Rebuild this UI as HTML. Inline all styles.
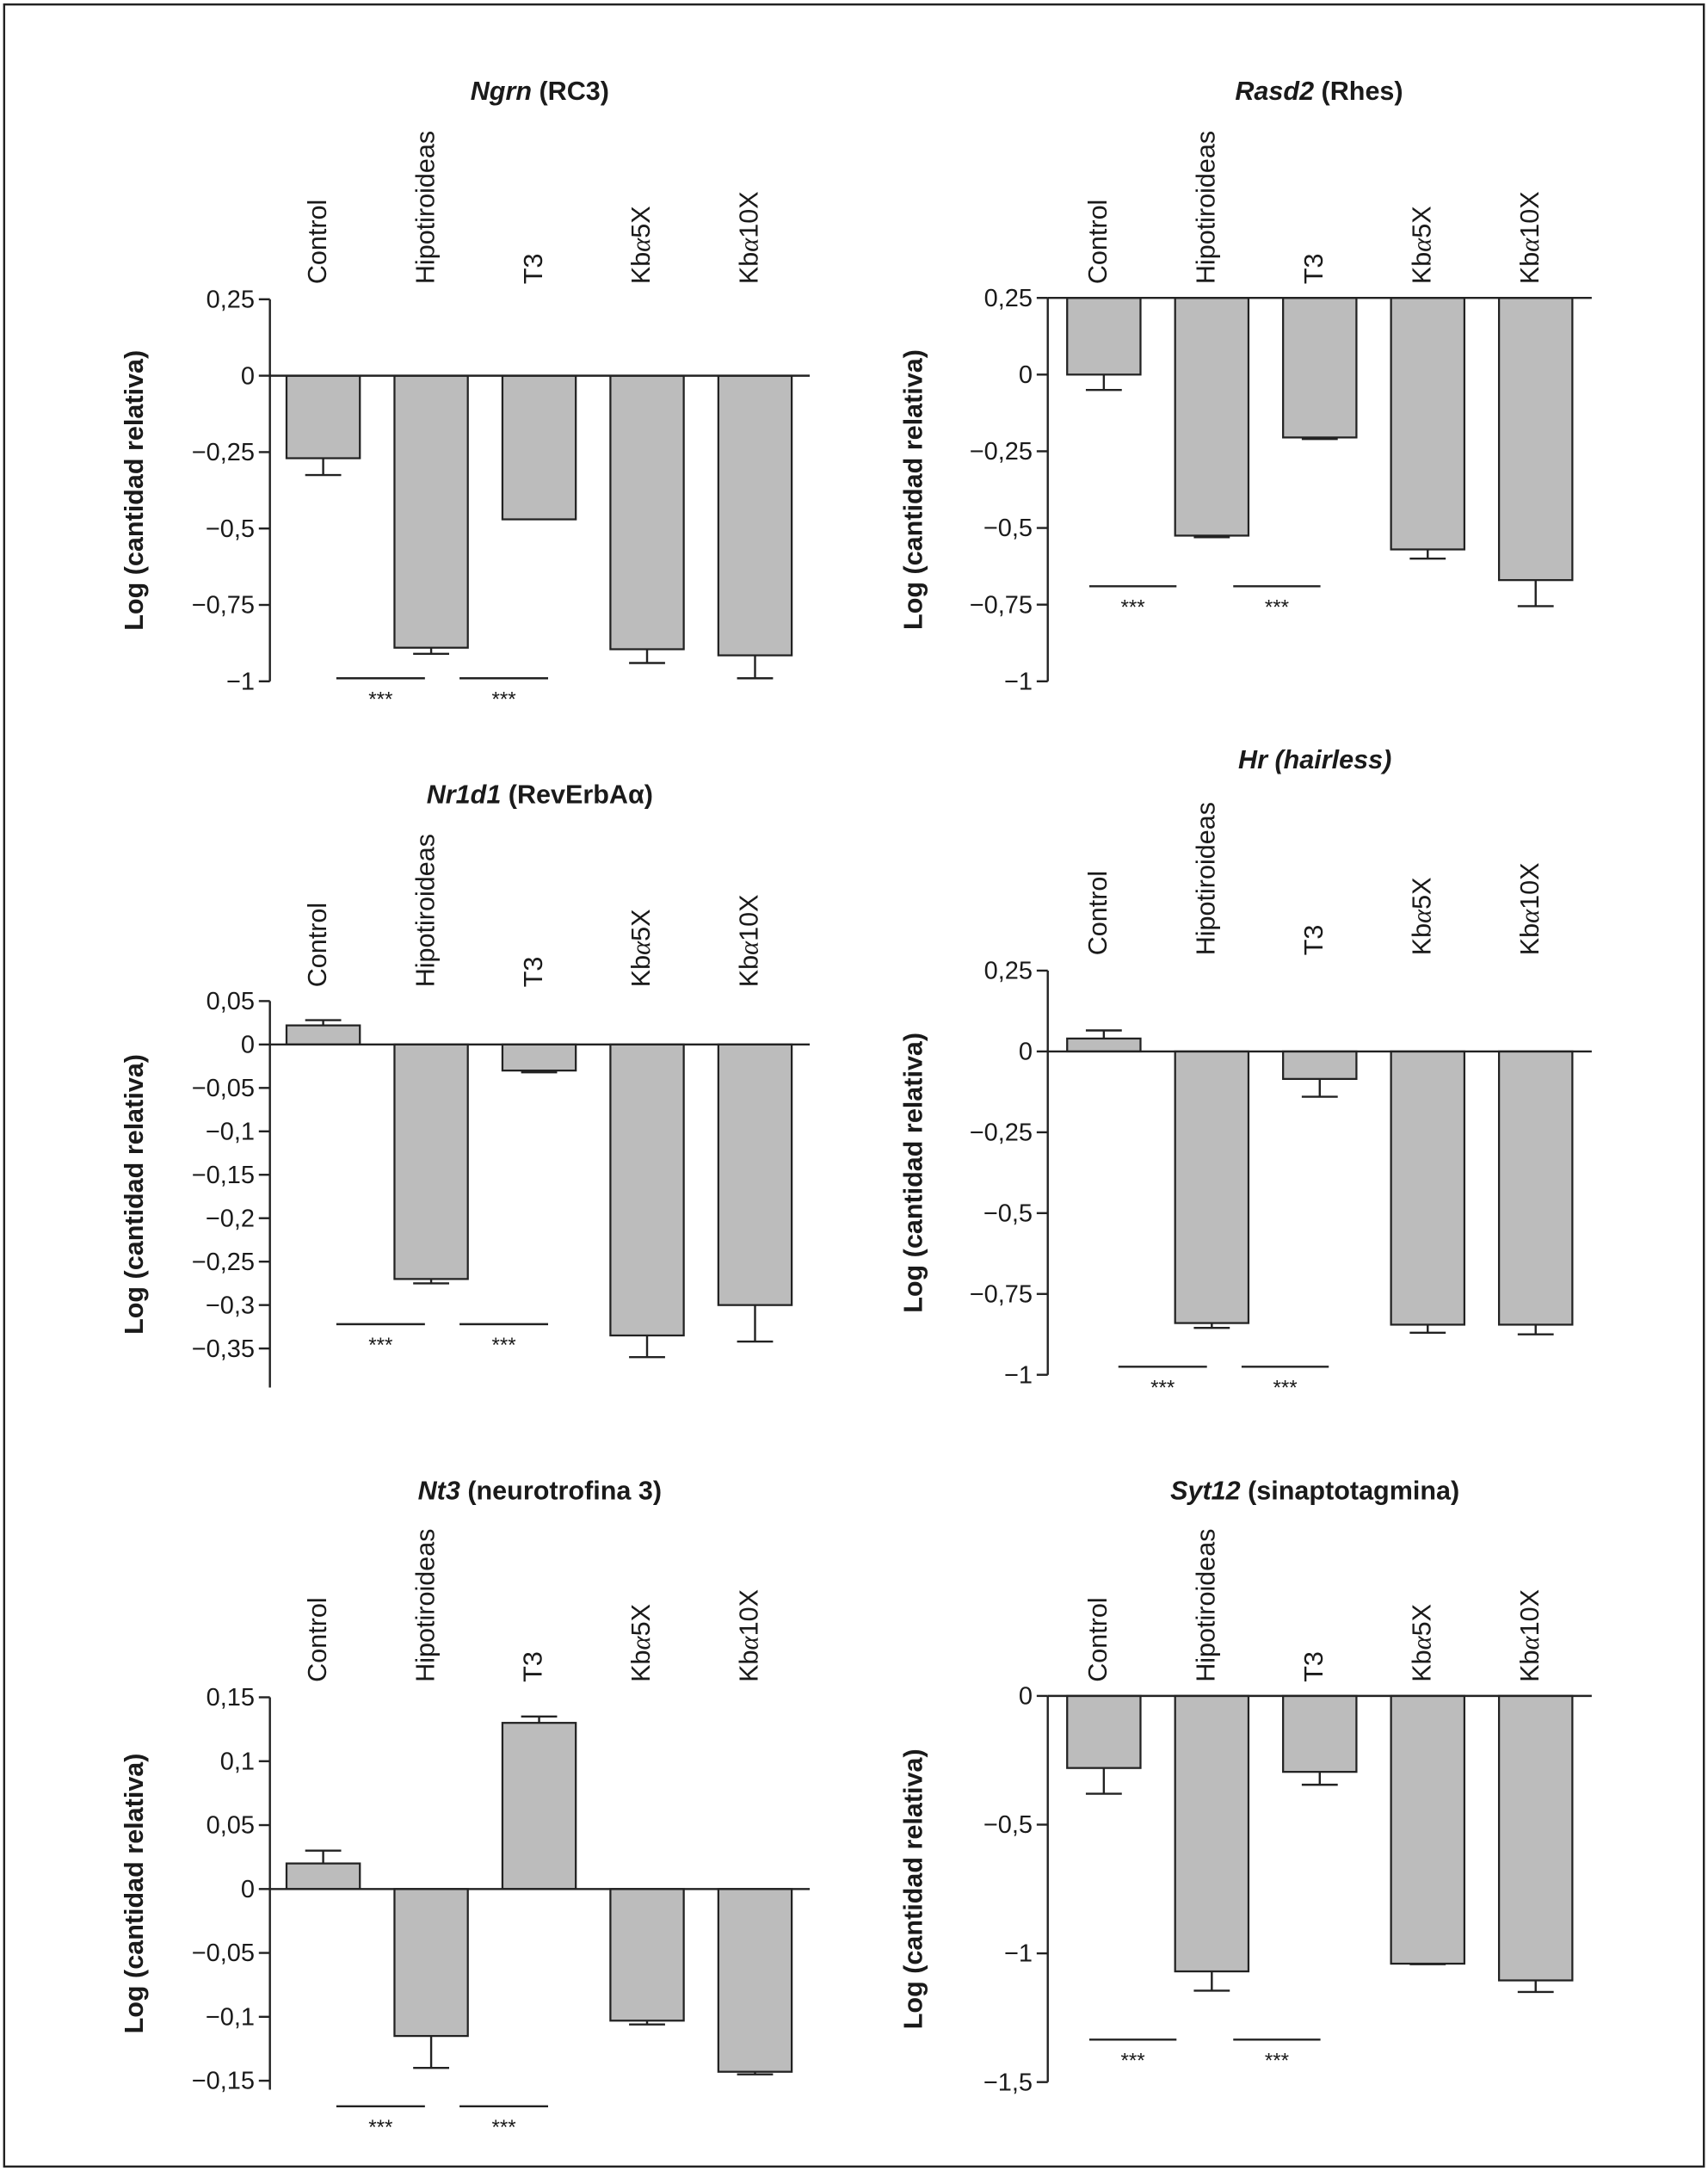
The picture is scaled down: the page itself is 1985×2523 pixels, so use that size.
<!DOCTYPE html>
<html><head><meta charset="utf-8"><style>
html,body{margin:0;padding:0;background:#fff}
svg{display:block}
text{font-family:"Liberation Sans",Arial,sans-serif;fill:#1a1a1a}
</style></head><body>
<svg id="fig" width="1985" height="2523" viewBox="0 0 1234 1568" xmlns="http://www.w3.org/2000/svg">
<rect x="3" y="3" width="1228" height="1562" fill="#fff" stroke="#222" stroke-width="1.5"/>
</svg>
<script>
const categories = ["Control","Hipotiroideas","T3","Kbα5X","Kbα10X"];
const ngrnValues = [-0.27,-0.89,-0.47,-0.895,-0.915];
const ngrnErrors = [-0.325,-0.91,null,-0.94,-0.99];
const ngrnTicks = [0.25,0,-0.25,-0.5,-0.75,-1];
const ngrnTickLabels = ["0,25","0","−0,25","−0,5","−0,75","−1"];
const rasdValues = [0,-0.525,-0.205,-0.57,-0.67];
const rasdErrors = [-0.05,-0.53,-0.21,-0.6,-0.755];
const rasdTicks = [0.25,0,-0.25,-0.5,-0.75,-1];
const rasdTickLabels = ["0,25","0","−0,25","−0,5","−0,75","−1"];
const nr1d1Values = [0.022,-0.27,-0.03,-0.335,-0.3];
const nr1d1Errors = [0.028,-0.275,-0.032,-0.36,-0.342];
const nr1d1Ticks = [0.05,0,-0.05,-0.1,-0.15,-0.2,-0.25,-0.3,-0.35];
const nr1d1TickLabels = ["0,05","0","−0,05","−0,1","−0,15","−0,2","−0,25","−0,3","−0,35"];
const hrValues = [0.04,-0.84,-0.085,-0.845,-0.845];
const hrErrors = [0.065,-0.855,-0.14,-0.87,-0.875];
const hrTicks = [0.25,0,-0.25,-0.5,-0.75,-1];
const hrTickLabels = ["0,25","0","−0,25","−0,5","−0,75","−1"];
const nt3Values = [0.02,-0.115,0.13,-0.103,-0.143];
const nt3Errors = [0.03,-0.14,0.135,-0.106,-0.145];
const nt3Ticks = [0.15,0.1,0.05,0,-0.05,-0.1,-0.15];
const nt3TickLabels = ["0,15","0,1","0,05","0","−0,05","−0,1","−0,15"];
const sytValues = [-0.28,-1.07,-0.295,-1.04,-1.105];
const sytErrors = [-0.38,-1.145,-0.345,-1.042,-1.15];
const sytTicks = [0,-0.5,-1,-1.5];
const sytTickLabels = ["0","−0,5","−1","−1,5"];

const NS="http://www.w3.org/2000/svg";
const svg=document.getElementById('fig');
function mk(tag,attrs,parent){const e=document.createElementNS(NS,tag);for(const k in attrs)e.setAttribute(k,attrs[k]);(parent||svg).appendChild(e);return e;}

const panels=[
 {id:'ngrn',it:'Ngrn',rest:' (RC3)',vals:ngrnValues,errs:ngrnErrors,ticks:ngrnTicks,tl:ngrnTickLabels,
  ax:195,x0:207,xEnd:585,vTop:0.25,yTop:216,vBot:-1,yBot:492,axBottom:-1,base:0,titleX:390,titleY:72,labY:205,ytX:97,
  sig:-0.99,sigX:[[243,307],[332,396]]},
 {id:'rasd2',it:'Rasd2',rest:' (Rhes)',vals:rasdValues,errs:rasdErrors,ticks:rasdTicks,tl:rasdTickLabels,
  ax:757,x0:771,xEnd:1150,vTop:0.25,yTop:215,vBot:-1,yBot:492,axBottom:-1,base:0.25,titleX:953,titleY:72,labY:205,ytX:660,
  sig:-0.69,sigX:[[787,850],[891,954]]},
 {id:'nr1d1',it:'Nr1d1',rest:' (RevErbAα)',vals:nr1d1Values,errs:nr1d1Errors,ticks:nr1d1Ticks,tl:nr1d1TickLabels,
  ax:195,x0:207,xEnd:585,vTop:0.05,yTop:723,vBot:-0.35,yBot:974,axBottom:-0.395,base:0,titleX:390,titleY:580,labY:713,ytX:97,
  sig:-0.322,sigX:[[243,307],[332,396]]},
 {id:'hr',it:'Hr (hairless)',rest:'',vals:hrValues,errs:hrErrors,ticks:hrTicks,tl:hrTickLabels,
  ax:757,x0:771,xEnd:1150,vTop:0.25,yTop:701,vBot:-1,yBot:993,axBottom:-1,base:0,titleX:950,titleY:555,labY:690,ytX:660,
  sig:-0.975,sigX:[[808,872],[897,960]]},
 {id:'nt3',it:'Nt3',rest:' (neurotrofina 3)',vals:nt3Values,errs:nt3Errors,ticks:nt3Ticks,tl:nt3TickLabels,
  ax:195,x0:207,xEnd:585,vTop:0.15,yTop:1226,vBot:-0.15,yBot:1503,axBottom:-0.157,base:0,titleX:390,titleY:1083,labY:1215,ytX:97,
  sig:-0.170,sigX:[[243,307],[332,396]]},
 {id:'syt12',it:'Syt12',rest:' (sinaptotagmina)',vals:sytValues,errs:sytErrors,ticks:sytTicks,tl:sytTickLabels,
  ax:757,x0:771,xEnd:1150,vTop:0,yTop:1225,vBot:-1.5,yBot:1504,axBottom:-1.5,base:0,titleX:950,titleY:1083,labY:1215,ytX:660,
  sig:-1.335,sigX:[[787,850],[891,954]]}
];

panels.forEach(p=>{
 const g=mk('g',{});
 
 
 const y=v=>p.yTop+(v-p.vTop)*(p.yBot-p.yTop)/(p.vBot-p.vTop);
 const step=78,bw=53;
 const t=mk('text',{x:p.titleX,y:p.titleY,'text-anchor':'middle','font-size':19,'font-weight':'bold'},g);
 
 
 const ti=mk('tspan',{'font-style':'italic'},t);ti.textContent=p.it;
 if(p.rest){const tr=mk('tspan',{},t);tr.textContent=p.rest;}
 const yc=(p.yTop+y(p.axBottom))/2;
 const yt=mk('text',{x:p.ytX,y:yc,'text-anchor':'middle','font-size':19,'font-weight':'bold',transform:`rotate(-90 ${p.ytX} ${yc})`,'dominant-baseline':'central'},g);
 
 
 yt.textContent='Log (cantidad relativa)';
 const ya=mk('line',{x1:p.ax,x2:p.ax,y1:p.yTop,y2:y(p.axBottom),stroke:'#222','stroke-width':1.5},g);
 
 
 p.ticks.forEach((v,i)=>{
  const tk=mk('line',{x1:p.ax-8,x2:p.ax,y1:y(v),y2:y(v),stroke:'#222','stroke-width':1.5},g);
  
  
  const tl=mk('text',{x:p.ax-11,y:y(v)+6,'text-anchor':'end','font-size':18},g);
  
  
  tl.textContent=p.tl[i];
 });
 p.vals.forEach((v,i)=>{
  const bx=p.x0+i*step, cx=bx+bw/2;
  const y0=y(p.base), y1=y(v);
  const r=mk('rect',{x:bx,y:Math.min(y0,y1),width:bw,height:Math.max(Math.abs(y1-y0),0.8),fill:'#bcbcbc',stroke:'#222','stroke-width':1.4},g);
  
  
  const e=p.errs[i];
  if(e!==null&&e!==undefined){
   const el=mk('path',{d:`M${cx} ${y1}V${y(e)}M${cx-13} ${y(e)}H${cx+13}`,stroke:'#222','stroke-width':1.5,fill:'none'},g);
   
   
  }
  const lx=cx+2;
  const lab=mk('text',{x:lx,y:p.labY,'font-size':19,transform:`rotate(-90 ${lx} ${p.labY})`},g);
  
  
  const c=categories[i];
  if(c.indexOf('α')>=0){
   const parts=c.split('α');
   const a=mk('tspan',{},lab);a.textContent=parts[0];
   const b=mk('tspan',{'font-family':'"Liberation Serif",serif','font-style':'italic'},lab);b.textContent='α';
   const d=mk('tspan',{},lab);d.textContent=parts[1];
  } else lab.textContent=c;
 });
 const bl=mk('line',{x1:p.ax,x2:p.xEnd,y1:y(p.base),y2:y(p.base),stroke:'#222','stroke-width':1.5},g);
 
 
 p.sigX.forEach((s,k)=>{
  const sl=mk('line',{x1:s[0],x2:s[1],y1:y(p.sig),y2:y(p.sig),stroke:'#222','stroke-width':1.5},g);
  
  
  const st=mk('text',{x:(s[0]+s[1])/2,y:y(p.sig)+20,'text-anchor':'middle','font-size':15},g);
  
  
  st.textContent='***';
 });
});
</script>
</body></html>
